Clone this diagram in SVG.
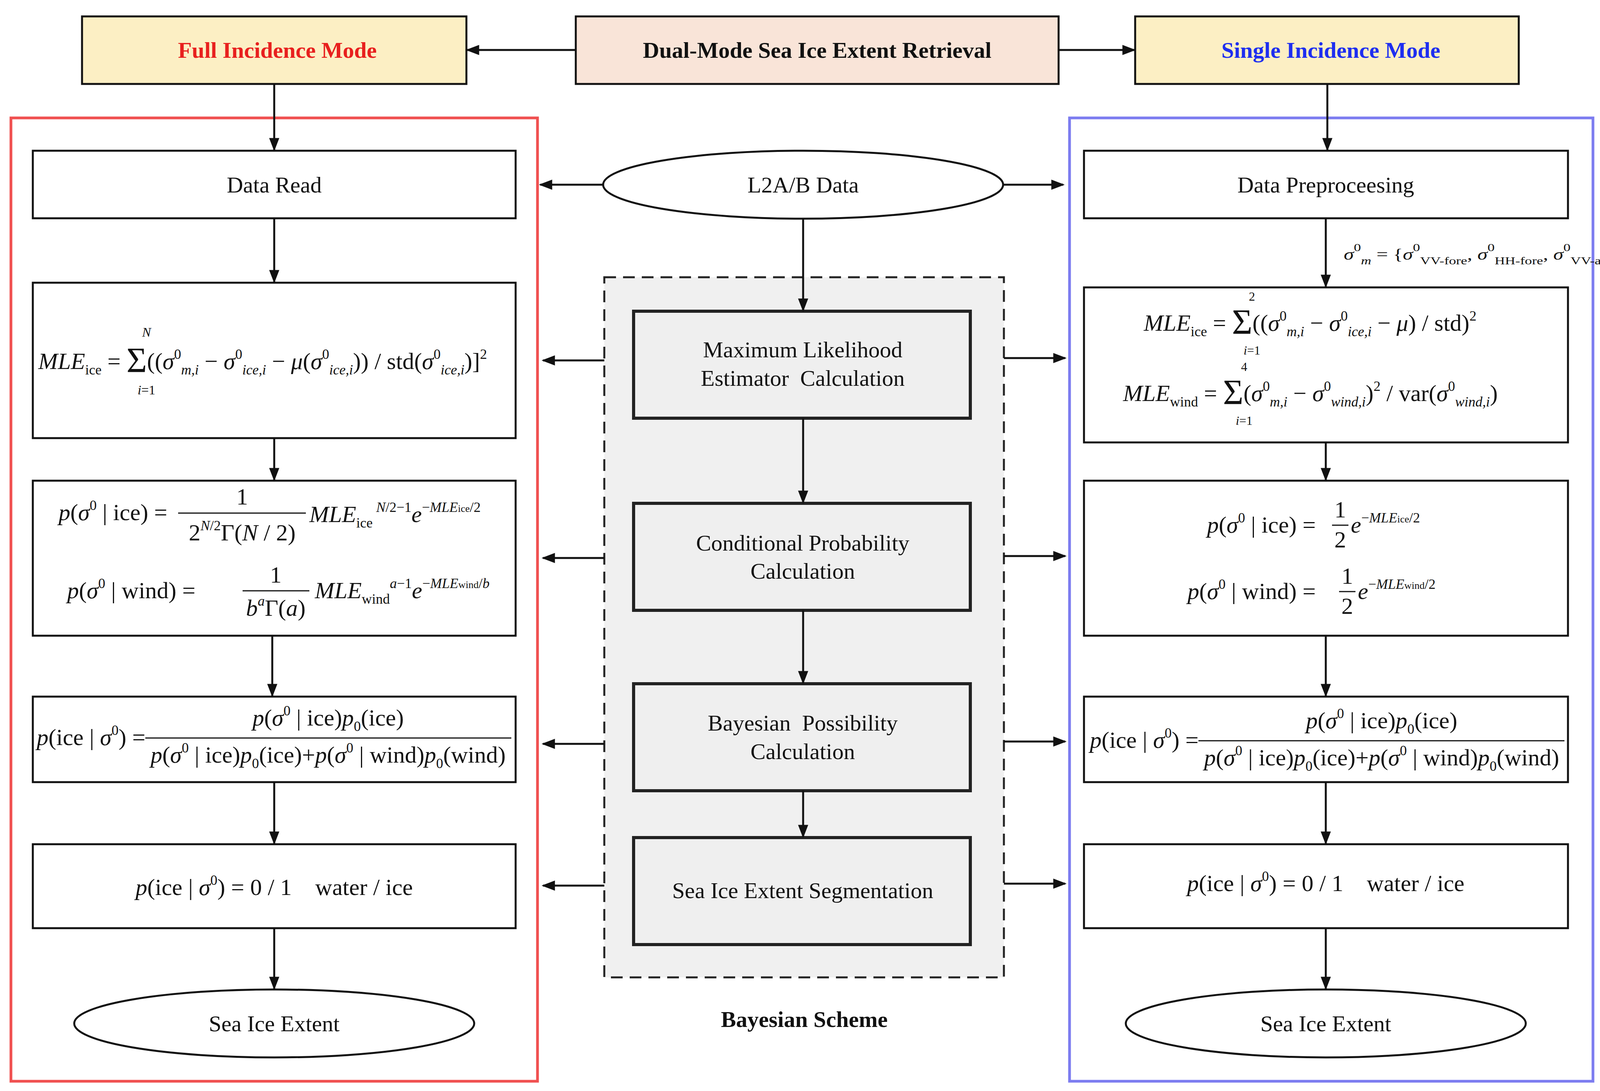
<svg xmlns="http://www.w3.org/2000/svg" width="4371" height="2794" viewBox="0 0 4371 2794">
<style>
text{font-family:"Liberation Serif","DejaVu Serif",serif;fill:#111}
.t{font-size:58px;text-anchor:middle}
.h{font-size:58px;font-weight:bold;text-anchor:middle}
.f{font-size:60px}
.i{font-style:italic}
.s{font-size:36px;baseline-shift:-14px}
.u{font-size:36px;baseline-shift:26px}
.s2{font-size:28px;baseline-shift:-12px}
.u2{font-size:28px;baseline-shift:22px}
.sg{font-size:90px}
.box{fill:#fff;stroke:#111;stroke-width:5}
.cb{fill:#efefef;stroke:#222;stroke-width:8}
.ln{stroke:#111;stroke-width:5;fill:none}
.fl{stroke:#111;stroke-width:3}
</style>
<defs>
<marker id="a" viewBox="0 0 10 10" refX="9" refY="5" markerWidth="34" markerHeight="26" markerUnits="userSpaceOnUse" orient="auto" preserveAspectRatio="none"><path d="M0,0L10,5L0,10z" fill="#111"/></marker>
</defs>
<rect width="4371" height="2794" fill="#fff"/>
<g id="frames">
<rect x="28" y="302" width="1348" height="2467" fill="none" stroke="#f05050" stroke-width="7"/>
<rect x="2738" y="302" width="1340" height="2467" fill="none" stroke="#7c7cf0" stroke-width="7"/>
<rect x="1547" y="710" width="1023" height="1793" fill="#f0f0f0" stroke="#222" stroke-width="5" stroke-dasharray="30,18"/>
</g>
<g id="top">
<g id="full"><rect x="210" y="42" width="984" height="173" fill="#fcefc4" stroke="#111" stroke-width="5"/><text class="h" x="710" y="148" style="fill:#e8201e">Full Incidence Mode</text></g>
<g id="dual"><rect x="1474" y="42" width="1236" height="173" fill="#f9e4d8" stroke="#111" stroke-width="5"/><text class="h" x="2092" y="148">Dual-Mode Sea Ice Extent Retrieval</text></g>
<g id="single"><rect x="2906" y="42" width="982" height="173" fill="#fcefc4" stroke="#111" stroke-width="5"/><text class="h" x="3407" y="148" style="fill:#1e2ef0">Single Incidence Mode</text></g>
</g>
<g id="center">
<g id="l2"><ellipse cx="2056" cy="473" rx="512" ry="87" class="box"/><text class="t" x="2056" y="493">L2A/B Data</text></g>
<g id="c1"><rect x="1622" y="797" width="862" height="274" class="cb"/><text class="t" x="2055" y="915">Maximum Likelihood</text><text class="t" x="2055" y="988">Estimator&#160; Calculation</text></g>
<g id="c2"><rect x="1622" y="1289" width="862" height="274" class="cb"/><text class="t" x="2055" y="1410">Conditional Probability</text><text class="t" x="2055" y="1482">Calculation</text></g>
<g id="c3"><rect x="1622" y="1751" width="862" height="274" class="cb"/><text class="t" x="2055" y="1871">Bayesian&#160; Possibility</text><text class="t" x="2055" y="1944">Calculation</text></g>
<g id="c4"><rect x="1622" y="2145" width="862" height="274" class="cb"/><text class="t" x="2055" y="2300">Sea Ice Extent Segmentation</text></g>
<text class="h" x="2059" y="2630">Bayesian Scheme</text>
</g>
<g id="left">
<g id="l1"><rect x="84" y="386" width="1236" height="173" class="box"/><text class="t" x="702" y="493">Data Read</text></g>
<g id="l2b"><rect x="84" y="724" width="1236" height="398" class="box"/>
<text class="f" x="98" y="945"><tspan class="i">MLE</tspan><tspan class="s">ice</tspan> = <tspan class="sg" dy="8">Σ</tspan><tspan dy="-8">((</tspan><tspan class="i">σ</tspan><tspan class="u">0</tspan><tspan class="s i">m,i</tspan> − <tspan class="i">σ</tspan><tspan class="u">0</tspan><tspan class="s i">ice,i</tspan> − <tspan class="i">μ</tspan>(<tspan class="i">σ</tspan><tspan class="u">0</tspan><tspan class="s i">ice,i</tspan>)) / std(<tspan class="i">σ</tspan><tspan class="u">0</tspan><tspan class="s i">ice,i</tspan>)]<tspan class="u">2</tspan></text>
<text x="375" y="862" class="i" style="font-size:34px" text-anchor="middle">N</text>
<text x="375" y="1010" style="font-size:34px" text-anchor="middle"><tspan class="i">i</tspan>=1</text></g>
<g id="l3"><rect x="84" y="1231" width="1236" height="397" class="box"/>
<text class="f" x="150" y="1332"><tspan class="i">p</tspan>(<tspan class="i">σ</tspan><tspan class="u">0</tspan> | ice) =</text>
<line x1="456" y1="1314" x2="783" y2="1314" class="fl"/>
<text class="f" x="620" y="1292" text-anchor="middle">1</text>
<text class="f" x="620" y="1384" text-anchor="middle">2<tspan class="u i">N</tspan><tspan class="u">/2</tspan>Γ(<tspan class="i">N</tspan> / 2)</text>
<text class="f" x="792" y="1337"><tspan class="i">MLE</tspan><tspan class="s">ice</tspan><tspan class="u"> <tspan class="i">N</tspan>/2−1</tspan><tspan class="i">e</tspan><tspan class="u">−<tspan class="i">MLE</tspan><tspan style="font-size:26px">ice</tspan>/2</tspan></text>
<text class="f" x="172" y="1532"><tspan class="i">p</tspan>(<tspan class="i">σ</tspan><tspan class="u">0</tspan> | wind) =</text>
<line x1="621" y1="1513" x2="792" y2="1513" class="fl"/>
<text class="f" x="706" y="1492" text-anchor="middle">1</text>
<text class="f" x="706" y="1577" text-anchor="middle"><tspan class="i">b</tspan><tspan class="u i">a</tspan>Γ(<tspan class="i">a</tspan>)</text>
<text class="f" x="806" y="1532"><tspan class="i">MLE</tspan><tspan class="s">wind</tspan><tspan class="u"><tspan class="i">a</tspan>−1</tspan><tspan class="i">e</tspan><tspan class="u">−<tspan class="i">MLE</tspan><tspan style="font-size:26px">wind</tspan>/<tspan class="i">b</tspan></tspan></text></g>
<g id="l4"><rect x="84" y="1784" width="1236" height="219" class="box"/>
<text class="f" x="94" y="1908"><tspan class="i">p</tspan>(ice | <tspan class="i">σ</tspan><tspan class="u">0</tspan>) =</text>
<line x1="372" y1="1890" x2="1309" y2="1890" class="fl"/>
<text class="f" x="840" y="1858" text-anchor="middle"><tspan class="i">p</tspan>(<tspan class="i">σ</tspan><tspan class="u">0</tspan> | ice)<tspan class="i">p</tspan><tspan class="s">0</tspan>(ice)</text>
<text class="f" x="840" y="1953" text-anchor="middle"><tspan class="i">p</tspan>(<tspan class="i">σ</tspan><tspan class="u">0</tspan> | ice)<tspan class="i">p</tspan><tspan class="s">0</tspan>(ice)+<tspan class="i">p</tspan>(<tspan class="i">σ</tspan><tspan class="u">0</tspan> | wind)<tspan class="i">p</tspan><tspan class="s">0</tspan>(wind)</text></g>
<g id="l5"><rect x="84" y="2162" width="1236" height="215" class="box"/>
<text class="f" x="702" y="2292" text-anchor="middle"><tspan class="i">p</tspan>(ice | <tspan class="i">σ</tspan><tspan class="u">0</tspan>) = 0 / 1 &#160;&#160;&#160;water / ice</text></g>
<g id="l6"><ellipse cx="702" cy="2621" rx="512" ry="87" class="box"/><text class="t" x="702" y="2641">Sea Ice Extent</text></g>
</g>
<g id="right">
<g id="r1"><rect x="2775" y="386" width="1239" height="173" class="box"/><text class="t" x="3394" y="493">Data Preproceesing</text></g>
<text x="3440" y="665" style="font-size:40px" textLength="880" lengthAdjust="spacingAndGlyphs"><tspan class="i">σ</tspan><tspan class="u2">0</tspan><tspan class="s2 i">m</tspan> = {<tspan class="i">σ</tspan><tspan class="u2">0</tspan><tspan class="s2">VV-fore</tspan>, <tspan class="i">σ</tspan><tspan class="u2">0</tspan><tspan class="s2">HH-fore</tspan>, <tspan class="i">σ</tspan><tspan class="u2">0</tspan><tspan class="s2">VV-aft</tspan>, <tspan class="i">σ</tspan><tspan class="u2">0</tspan><tspan class="s2">HH-aft</tspan>}</text>
<g id="r2"><rect x="2775" y="736" width="1239" height="397" class="box"/>
<text class="f" x="2928" y="847"><tspan class="i">MLE</tspan><tspan class="s">ice</tspan> = <tspan class="sg" dy="8">Σ</tspan><tspan dy="-8">((</tspan><tspan class="i">σ</tspan><tspan class="u">0</tspan><tspan class="s i">m,i</tspan> − <tspan class="i">σ</tspan><tspan class="u">0</tspan><tspan class="s i">ice,i</tspan> − <tspan class="i">μ</tspan>) / std)<tspan class="u">2</tspan></text>
<text x="3205" y="770" style="font-size:32px" text-anchor="middle">2</text><text x="3205" y="908" style="font-size:32px" text-anchor="middle"><tspan class="i">i</tspan>=1</text>
<text class="f" x="2875" y="1027"><tspan class="i">MLE</tspan><tspan class="s">wind</tspan> = <tspan class="sg" dy="8">Σ</tspan><tspan dy="-8">(</tspan><tspan class="i">σ</tspan><tspan class="u">0</tspan><tspan class="s i">m,i</tspan> − <tspan class="i">σ</tspan><tspan class="u">0</tspan><tspan class="s i">wind,i</tspan>)<tspan class="u">2</tspan> / var(<tspan class="i">σ</tspan><tspan class="u">0</tspan><tspan class="s i">wind,i</tspan>)</text>
<text x="3185" y="950" style="font-size:32px" text-anchor="middle">4</text><text x="3185" y="1088" style="font-size:32px" text-anchor="middle"><tspan class="i">i</tspan>=1</text></g>
<g id="r3"><rect x="2775" y="1231" width="1239" height="397" class="box"/>
<text class="f" x="3090" y="1364"><tspan class="i">p</tspan>(<tspan class="i">σ</tspan><tspan class="u">0</tspan> | ice) =</text>
<line x1="3410" y1="1345" x2="3452" y2="1345" class="fl"/>
<text class="f" x="3431" y="1325" text-anchor="middle">1</text><text class="f" x="3431" y="1402" text-anchor="middle">2</text>
<text class="f" x="3458" y="1364"><tspan class="i">e</tspan><tspan class="u">−<tspan class="i">MLE</tspan><tspan style="font-size:26px">ice</tspan>/2</tspan></text>
<text class="f" x="3040" y="1534"><tspan class="i">p</tspan>(<tspan class="i">σ</tspan><tspan class="u">0</tspan> | wind) =</text>
<line x1="3428" y1="1515" x2="3470" y2="1515" class="fl"/>
<text class="f" x="3449" y="1495" text-anchor="middle">1</text><text class="f" x="3449" y="1572" text-anchor="middle">2</text>
<text class="f" x="3476" y="1534"><tspan class="i">e</tspan><tspan class="u">−<tspan class="i">MLE</tspan><tspan style="font-size:26px">wind</tspan>/2</tspan></text></g>
<g id="r4"><rect x="2775" y="1784" width="1239" height="219" class="box"/>
<text class="f" x="2790" y="1915"><tspan class="i">p</tspan>(ice | <tspan class="i">σ</tspan><tspan class="u">0</tspan>) =</text>
<line x1="3068" y1="1897" x2="4005" y2="1897" class="fl"/>
<text class="f" x="3537" y="1865" text-anchor="middle"><tspan class="i">p</tspan>(<tspan class="i">σ</tspan><tspan class="u">0</tspan> | ice)<tspan class="i">p</tspan><tspan class="s">0</tspan>(ice)</text>
<text class="f" x="3537" y="1960" text-anchor="middle"><tspan class="i">p</tspan>(<tspan class="i">σ</tspan><tspan class="u">0</tspan> | ice)<tspan class="i">p</tspan><tspan class="s">0</tspan>(ice)+<tspan class="i">p</tspan>(<tspan class="i">σ</tspan><tspan class="u">0</tspan> | wind)<tspan class="i">p</tspan><tspan class="s">0</tspan>(wind)</text></g>
<g id="r5"><rect x="2775" y="2162" width="1239" height="215" class="box"/>
<text class="f" x="3394" y="2282" text-anchor="middle"><tspan class="i">p</tspan>(ice | <tspan class="i">σ</tspan><tspan class="u">0</tspan>) = 0 / 1 &#160;&#160;&#160;water / ice</text></g>
<g id="r6"><ellipse cx="3394" cy="2621" rx="512" ry="87" class="box"/><text class="t" x="3394" y="2641">Sea Ice Extent</text></g>
</g>
<g id="connectors" class="ln">
<line x1="1474" y1="128" x2="1196" y2="128" marker-end="url(#a)"/>
<line x1="2710" y1="128" x2="2904" y2="128" marker-end="url(#a)"/>
<line x1="702" y1="215" x2="702" y2="384" marker-end="url(#a)"/>
<line x1="3398" y1="215" x2="3398" y2="384" marker-end="url(#a)"/>
<line x1="1544" y1="473" x2="1383" y2="473" marker-end="url(#a)"/>
<line x1="2568" y1="473" x2="2722" y2="473" marker-end="url(#a)"/>
<line x1="2056" y1="560" x2="2056" y2="795" marker-end="url(#a)"/>
<line x1="2056" y1="1071" x2="2056" y2="1287" marker-end="url(#a)"/>
<line x1="2056" y1="1563" x2="2056" y2="1749" marker-end="url(#a)"/>
<line x1="2056" y1="2025" x2="2056" y2="2143" marker-end="url(#a)"/>
<line x1="702" y1="559" x2="702" y2="722" marker-end="url(#a)"/>
<line x1="702" y1="1122" x2="702" y2="1229" marker-end="url(#a)"/>
<line x1="697" y1="1628" x2="697" y2="1782" marker-end="url(#a)"/>
<line x1="702" y1="2003" x2="702" y2="2160" marker-end="url(#a)"/>
<line x1="702" y1="2377" x2="702" y2="2532" marker-end="url(#a)"/>
<line x1="3394" y1="559" x2="3394" y2="734" marker-end="url(#a)"/>
<line x1="3394" y1="1133" x2="3394" y2="1229" marker-end="url(#a)"/>
<line x1="3394" y1="1628" x2="3394" y2="1782" marker-end="url(#a)"/>
<line x1="3394" y1="2003" x2="3394" y2="2160" marker-end="url(#a)"/>
<line x1="3394" y1="2377" x2="3394" y2="2532" marker-end="url(#a)"/>
<line x1="1547" y1="923" x2="1390" y2="923" marker-end="url(#a)"/>
<line x1="1547" y1="1429" x2="1390" y2="1429" marker-end="url(#a)"/>
<line x1="1547" y1="1905" x2="1390" y2="1905" marker-end="url(#a)"/>
<line x1="1547" y1="2268" x2="1390" y2="2268" marker-end="url(#a)"/>
<line x1="2570" y1="917" x2="2727" y2="917" marker-end="url(#a)"/>
<line x1="2570" y1="1424" x2="2727" y2="1424" marker-end="url(#a)"/>
<line x1="2570" y1="1899" x2="2727" y2="1899" marker-end="url(#a)"/>
<line x1="2570" y1="2263" x2="2727" y2="2263" marker-end="url(#a)"/>
</g>
</svg>
